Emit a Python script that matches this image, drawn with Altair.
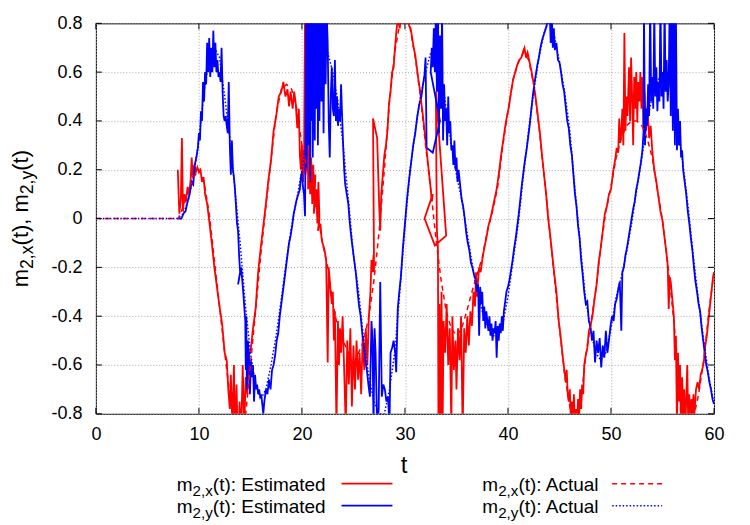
import altair as alt
import pandas as pd

# ---------------- data ----------------
t_actual = [0, 8.0, 8.5, 9.0, 9.5, 10.0, 10.5, 11.0, 11.5, 12.0, 12.5,
            13.0, 13.5, 14.0, 14.5, 15.0, 15.5, 16.0, 16.5, 17.0, 17.5,
            18.0, 18.5, 19.0, 19.5, 20.0, 20.5, 21.0, 21.5, 22.0, 22.5,
            23.0, 23.5, 24.0, 24.5, 25.0, 25.5, 26.0, 26.5, 27.0, 27.5,
            28.0, 28.5, 29.0, 29.5, 30.0, 30.5, 31.0, 31.5, 32.0, 32.5,
            33.0, 33.5, 34.0, 34.5, 35.0, 35.5, 36.0, 36.5, 37.0, 37.5,
            38.0, 38.5, 39.0, 39.5, 40.0, 40.5, 41.0, 41.5, 42.0, 42.5,
            43.0, 43.5, 44.0, 44.5, 45.0, 45.5, 46.0, 46.5, 47.0, 47.5,
            48.0, 48.5, 49.0, 49.5, 50.0, 50.5, 51.0, 51.5, 52.0, 52.5,
            53.0, 53.5, 54.0, 54.5, 55.0, 55.5, 56.0, 56.5, 57.0, 57.5,
            58.0, 58.5, 59.0, 59.5, 60.0]

mx_actual = [0,
             0, 0.05, 0.11, 0.17, 0.2, 0.15, 0.02, -0.17, -0.36, -0.55,
             -0.72, -0.84, -0.9, -0.82, -0.6, -0.38, -0.15, 0.05, 0.24, 0.43,
             0.53, 0.55, 0.53, 0.45, 0.3, 0.2, 0.1, 0.02, -0.1, -0.2,
             -0.35, -0.45, -0.5, -0.55, -0.6, -0.55, -0.5, -0.4, -0.25, -0.05,
             0.2, 0.48, 0.68, 0.8, 0.84, 0.78, 0.66, 0.5, 0.3, 0.12,
             -0.08, -0.25, -0.38, -0.45, -0.48, -0.45, -0.38, -0.3, -0.23, -0.16,
             -0.05, 0.03, 0.13, 0.3, 0.44, 0.57, 0.64, 0.68, 0.65, 0.55,
             0.38, 0.18, -0.03, -0.24, -0.45, -0.64, -0.77, -0.84, -0.78, -0.58,
             -0.44, -0.3, -0.12, 0.03, 0.13, 0.25, 0.33, 0.38, 0.4, 0.4,
             0.38, 0.33, 0.25, 0.12, -0.01, -0.18, -0.38, -0.6, -0.75, -0.85,
             -0.82, -0.72, -0.58, -0.38, -0.22]

my_actual = [0,
             0, 0.02, 0.08, 0.18, 0.32, 0.52, 0.65, 0.7, 0.66, 0.5,
             0.33, 0.12, -0.1, -0.35, -0.55, -0.68, -0.74, -0.7, -0.6, -0.48,
             -0.33, -0.17, -0.03, 0.08, 0.2, 0.35, 0.5, 0.62, 0.7, 0.68,
             0.6, 0.48, 0.3, 0.08, -0.15, -0.3, -0.5, -0.65, -0.75, -0.8,
             -0.8, -0.7, -0.55, -0.3, -0.03, 0.2, 0.36, 0.5, 0.6, 0.68,
             0.7, 0.6, 0.45, 0.3, 0.18, 0.08, -0.05, -0.18, -0.3, -0.38,
             -0.44, -0.48, -0.48, -0.43, -0.32, -0.17, -0.02, 0.18, 0.36, 0.52,
             0.66, 0.76, 0.82, 0.75, 0.64, 0.52, 0.36, 0.12, -0.1, -0.32,
             -0.45, -0.55, -0.58, -0.55, -0.45, -0.32, -0.24, -0.14, -0.02, 0.12,
             0.25, 0.4, 0.5, 0.56, 0.6, 0.6, 0.52, 0.38, 0.22, 0.04,
             -0.16, -0.34, -0.5, -0.65, -0.76]

# estimated series, (t, value) in recorded order (t is not always increasing)
mx_estimated = [
    (7.95, 0.20), (8.1, 0.02), (8.25, 0.08), (8.35, 0.33), (8.45, 0.03), (8.6, 0.10), (8.75, 0.07), (8.9, 0.13), (9.05, 0.10), (9.2, 0.16),
    (9.3, 0.25), (9.4, 0.17), (9.55, 0.22), (9.7, 0.19), (9.85, 0.21), (10.0, 0.19), (10.15, 0.20), (10.3, 0.15), (10.45, 0.17), (10.6, 0.10),
    (10.8, 0.06), (11.0, -0.01), (11.25, -0.10), (11.5, -0.20), (11.75, -0.28), (12.0, -0.36), (12.25, -0.43), (12.5, -0.55), (12.7, -0.58), (12.85, -0.70),
    (13.0, -0.78), (13.1, -0.64), (13.25, -0.85), (13.4, -0.60), (13.5, -0.90), (13.65, -0.68), (13.8, -0.95), (13.95, -0.75), (14.1, -0.90), (14.25, -0.60),
    (14.4, -0.85), (14.55, -0.65), (14.7, -0.72), (14.85, -0.55), (15.0, -0.55), (15.25, -0.45), (15.5, -0.37), (15.75, -0.22), (16.0, -0.12), (16.25, -0.03),
    (16.5, 0.06), (16.75, 0.16), (17.0, 0.24), (17.25, 0.36), (17.5, 0.42), (17.75, 0.50), (18.0, 0.52), (18.2, 0.56), (18.4, 0.50), (18.6, 0.53),
    (18.75, 0.46), (18.9, 0.52), (19.1, 0.45), (19.25, 0.52), (19.4, 0.47), (19.55, 0.37), (19.7, 0.45), (19.8, 0.26), (19.9, 0.20), (20.0, 0.30),
    (20.1, 0.15), (20.2, 0.22), (20.3, 0.85), (20.35, 0.18), (20.45, 0.32), (20.55, 0.82), (20.6, 0.12), (20.7, 0.28), (20.8, 0.10), (20.9, 0.25),
    (21.0, 0.06), (21.1, 0.22), (21.2, 0.05), (21.3, 0.18), (21.15, 0.02), (21.4, 0.12), (21.5, -0.02), (21.6, 0.15), (21.7, 0.00), (21.55, -0.05),
    (21.8, -0.02), (21.9, -0.08), (22.0, -0.10), (22.2, -0.13), (22.35, -0.17), (22.5, -0.59), (22.6, -0.20), (22.75, -0.28), (22.9, -0.35), (23.0, -0.30),
    (23.1, -0.50), (23.2, -0.38), (23.35, -0.85), (23.5, -0.42), (23.6, -0.60), (23.7, -0.45), (23.8, -0.55), (23.95, -0.40), (24.1, -0.62), (24.25, -0.85),
    (24.4, -0.50), (24.55, -0.68), (24.7, -0.45), (24.85, -0.77), (25.0, -0.52), (25.15, -0.70), (25.3, -0.50), (25.45, -0.66), (25.6, -0.55), (25.75, -0.72),
    (25.9, -0.48), (26.05, -0.62), (26.2, -0.45), (26.35, -0.60), (26.5, -0.40), (26.65, -0.30), (26.75, -0.17), (26.85, -0.22), (26.95, -0.15), (27.0, -0.22),
    (26.9, 0.41), (27.3, 0.33), (27.5, 0.05), (27.6, -0.05), (27.7, 0.10), (27.85, 0.18), (28.0, 0.26), (28.15, 0.30), (28.3, 0.36), (28.45, 0.47),
    (28.6, 0.52), (28.75, 0.60), (28.9, 0.62), (29.0, 0.68), (29.15, 0.76), (29.3, 0.82), (29.5, 0.78), (29.65, 0.85), (29.8, 0.80), (29.95, 0.86),
    (30.1, 0.81), (30.25, 0.84), (30.4, 0.79), (30.55, 0.78), (30.7, 0.74), (30.85, 0.70), (31.0, 0.67), (31.15, 0.62), (31.3, 0.57), (31.45, 0.53),
    (31.6, 0.47), (31.75, 0.42), (31.9, 0.36), (32.05, 0.30), (32.2, 0.24), (32.35, 0.18), (32.5, 0.12), (32.6, 0.07), (32.7, 0.10), (31.9, 0.00),
    (32.9, -0.11), (34.0, -0.07), (33.0, 0.52), (33.05, 0.20), (33.1, -0.05), (33.2, -0.12), (33.25, -0.85), (33.35, -0.35), (33.45, -0.90), (33.55, -0.30),
    (33.65, -0.88), (33.75, -0.42), (33.9, -0.55), (34.05, -0.35), (34.2, -0.60), (34.35, -0.45), (34.5, -0.85), (34.6, -0.40), (34.75, -0.62), (34.9, -0.50),
    (35.0, -0.70), (35.15, -0.45), (35.3, -0.58), (35.45, -0.40), (35.6, -0.88), (35.75, -0.45), (35.9, -0.55), (36.05, -0.40), (36.2, -0.52), (36.35, -0.38),
    (36.5, -0.44), (36.65, -0.30), (36.8, -0.36), (36.9, -0.22), (37.0, -0.32), (37.1, -0.25), (37.2, -0.20), (37.35, -0.22), (37.5, -0.17), (37.7, -0.12),
    (37.9, -0.08), (38.1, -0.03), (38.3, 0.00), (38.5, 0.04), (38.7, 0.08), (38.9, 0.12), (39.1, 0.18), (39.3, 0.25), (39.5, 0.31), (39.7, 0.37),
    (39.9, 0.42), (40.1, 0.46), (40.3, 0.52), (40.5, 0.57), (40.7, 0.60), (40.9, 0.63), (41.1, 0.65), (41.3, 0.66), (41.5, 0.69), (41.6, 0.70),
    (41.75, 0.66), (41.9, 0.68), (42.1, 0.64), (42.3, 0.60), (42.5, 0.55), (42.7, 0.49), (42.9, 0.42), (43.1, 0.35), (43.3, 0.26), (43.5, 0.18),
    (43.7, 0.10), (43.9, 0.00), (44.1, -0.07), (44.3, -0.15), (44.5, -0.23), (44.7, -0.30), (44.9, -0.41), (45.1, -0.48), (45.3, -0.56), (45.5, -0.63),
    (45.6, -0.67), (45.7, -0.62), (45.8, -0.72), (45.9, -0.75), (46.0, -0.70), (46.1, -0.82), (46.2, -0.75), (46.3, -0.85), (46.4, -0.72), (46.5, -0.88),
    (46.6, -0.78), (46.7, -0.85), (46.8, -0.74), (46.9, -0.82), (47.0, -0.70), (47.1, -0.78), (47.2, -0.68), (47.3, -0.72), (47.4, -0.60), (47.55, -0.56),
    (47.7, -0.53), (47.85, -0.46), (48.0, -0.44), (48.2, -0.40), (48.4, -0.33), (48.6, -0.27), (48.8, -0.18), (49.0, -0.12), (49.2, -0.05), (49.4, 0.02),
    (49.6, 0.05), (49.8, 0.10), (50.0, 0.12), (50.2, 0.19), (50.4, 0.24), (50.55, 0.29), (50.7, 0.27), (50.8, 0.41), (50.9, 0.31), (51.0, 0.35),
    (51.1, 0.45), (51.2, 0.30), (51.3, 0.76), (51.4, 0.36), (51.5, 0.50), (51.6, 0.42), (51.75, 0.62), (51.85, 0.40), (51.95, 0.66), (52.05, 0.50),
    (52.15, 0.30), (52.25, 0.58), (52.35, 0.45), (52.45, 0.60), (52.55, 0.40), (52.65, 0.56), (52.75, 0.48), (52.85, 0.60), (52.95, 0.45), (53.05, 0.58),
    (53.15, 0.38), (53.25, 0.52), (53.4, 0.36), (53.55, 0.46), (53.7, 0.33), (53.85, 0.38), (54.0, 0.28), (54.2, 0.20), (54.4, 0.15), (54.6, 0.09),
    (54.8, 0.03), (55.0, -0.01), (55.2, -0.08), (55.35, -0.13), (55.5, -0.19), (55.6, -0.37), (55.7, -0.24), (55.8, -0.26), (55.95, -0.33), (56.1, -0.40),
    (56.2, -0.58), (56.3, -0.48), (56.4, -0.85), (56.5, -0.55), (56.6, -0.75), (56.7, -0.60), (56.8, -0.90), (56.9, -0.65), (57.0, -0.82), (57.1, -0.70),
    (57.2, -0.88), (57.3, -0.74), (57.4, -0.60), (57.5, -0.86), (57.6, -0.72), (57.7, -0.90), (57.8, -0.74), (57.9, -0.82), (58.0, -0.72), (58.1, -0.80),
    (58.25, -0.70), (58.4, -0.67), (58.55, -0.70), (58.7, -0.64), (58.85, -0.62), (59.0, -0.59), (59.15, -0.52), (59.3, -0.48), (59.45, -0.42), (59.6, -0.36),
    (59.75, -0.30), (59.9, -0.24), (60.0, -0.22),
]

my_estimated = [
    (8.0, 0.00), (8.3, 0.00), (8.5, 0.02), (8.7, 0.03), (8.9, 0.07), (9.1, 0.10), (9.3, 0.15), (9.45, 0.14), (9.6, 0.22), (9.75, 0.25),
    (9.9, 0.29), (10.0, 0.35), (10.1, 0.32), (10.2, 0.44), (10.3, 0.40), (10.4, 0.56), (10.5, 0.48), (10.6, 0.60), (10.7, 0.55), (10.8, 0.72),
    (10.9, 0.60), (11.0, 0.74), (11.1, 0.58), (11.2, 0.70), (11.3, 0.60), (11.4, 0.77), (11.5, 0.62), (11.6, 0.72), (11.7, 0.60), (11.8, 0.65),
    (11.9, 0.58), (12.0, 0.60), (12.1, 0.56), (12.2, 0.70), (12.3, 0.52), (12.4, 0.42), (12.5, 0.40), (12.6, 0.42), (12.7, 0.38), (12.8, 0.35),
    (12.9, 0.56), (13.0, 0.30), (13.1, 0.18), (13.2, 0.32), (13.3, 0.20), (13.4, 0.17), (13.5, 0.12), (13.6, 0.05), (13.7, -0.02), (13.8, -0.05),
    (13.9, -0.15), (14.0, -0.22), (13.8, -0.27), (14.1, -0.20), (14.2, -0.25), (14.3, -0.30), (14.4, -0.36), (14.5, -0.42), (14.55, -0.62), (14.6, -0.40),
    (14.65, -0.70), (14.75, -0.50), (14.85, -0.55), (14.95, -0.72), (15.05, -0.58), (15.15, -0.65), (15.25, -0.60), (15.35, -0.75), (15.45, -0.64), (15.55, -0.70),
    (15.65, -0.68), (15.75, -0.72), (15.85, -0.70), (15.95, -0.73), (16.05, -0.72), (16.15, -0.76), (16.25, -0.80), (16.35, -0.75), (16.5, -0.70), (16.65, -0.72),
    (16.8, -0.66), (16.95, -0.70), (17.1, -0.62), (17.25, -0.60), (17.4, -0.56), (17.55, -0.50), (17.7, -0.47), (17.85, -0.40), (18.0, -0.35), (18.15, -0.30),
    (18.3, -0.25), (18.45, -0.20), (18.6, -0.15), (18.75, -0.10), (18.9, -0.07), (19.05, -0.03), (19.2, 0.02), (19.35, 0.05), (19.5, 0.08), (19.65, 0.10),
    (19.8, 0.12), (19.9, 0.17), (20.0, 0.19), (20.1, 0.13), (20.2, 0.10), (20.3, 0.01), (20.35, 0.30), (20.4, 0.90), (20.45, 0.20), (20.55, 0.90),
    (20.6, 0.30), (20.7, 0.85), (20.8, 0.15), (20.85, 0.95), (20.9, 0.40), (21.0, 0.90), (21.05, 0.25), (21.15, 0.85), (21.25, 0.32), (21.3, 0.90),
    (21.4, 0.45), (21.5, 0.88), (21.55, 0.30), (21.65, 0.85), (21.7, 0.40), (21.8, 0.90), (21.9, 0.48), (22.0, 0.85), (22.1, 0.35), (22.2, 0.90),
    (22.3, 0.55), (22.4, 0.85), (22.5, 0.72), (22.6, 0.40), (22.7, 0.25), (22.8, 0.50), (22.9, 0.62), (23.0, 0.45), (23.1, 0.42), (23.2, 0.65),
    (23.3, 0.40), (23.4, 0.50), (23.5, 0.38), (23.6, 0.45), (23.7, 0.40), (23.8, 0.55), (23.9, 0.42), (24.0, 0.30), (24.1, 0.20), (24.2, 0.14),
    (24.35, 0.10), (24.5, 0.06), (24.65, -0.02), (24.8, -0.08), (24.95, -0.13), (25.1, -0.18), (25.25, -0.23), (25.4, -0.30), (25.55, -0.36), (25.7, -0.40),
    (25.85, -0.47), (26.0, -0.52), (26.15, -0.58), (26.3, -0.62), (26.45, -0.68), (26.6, -0.73), (26.75, -0.42), (26.85, -0.50), (26.95, -0.85), (27.05, -0.45),
    (27.15, -0.55), (27.3, -0.85), (27.45, -0.78), (27.6, -0.26), (27.75, -0.73), (27.9, -0.68), (28.05, -0.70), (28.2, -0.75), (28.35, -0.73), (28.5, -0.85),
    (28.6, -0.55), (28.75, -0.53), (28.9, -0.50), (29.05, -0.55), (29.15, -0.63), (29.3, -0.37), (29.45, -0.30), (29.6, -0.24), (29.8, -0.12), (30.0, -0.02),
    (30.2, 0.08), (30.4, 0.16), (30.6, 0.23), (30.8, 0.30), (31.0, 0.35), (31.2, 0.42), (31.4, 0.47), (31.6, 0.50), (31.75, 0.55), (31.9, 0.59),
    (32.0, 0.66), (32.1, 0.29), (32.7, 0.27), (33.4, 0.40), (32.5, 0.60), (32.6, 0.70), (32.7, 0.62), (32.8, 0.78), (32.9, 0.60), (33.0, 0.85),
    (33.1, 0.52), (33.2, 0.90), (33.3, 0.35), (33.4, 0.75), (33.5, 0.45), (33.6, 0.85), (33.7, 0.32), (33.8, 0.55), (33.9, 0.40), (34.0, 0.45),
    (34.1, 0.30), (34.2, 0.50), (34.3, 0.35), (34.4, 0.40), (34.5, 0.28), (34.6, 0.30), (34.7, 0.22), (34.8, 0.32), (34.9, 0.20), (35.0, 0.25),
    (35.1, 0.15), (35.2, 0.20), (35.35, 0.14), (35.5, 0.08), (35.65, 0.05), (35.8, 0.00), (35.95, -0.06), (36.1, -0.10), (36.25, -0.13), (36.4, -0.18),
    (36.55, -0.20), (36.7, -0.23), (36.85, -0.25), (37.0, -0.30), (37.1, -0.27), (37.2, -0.48), (37.3, -0.28), (37.4, -0.35), (37.5, -0.30), (37.6, -0.42),
    (37.7, -0.36), (37.8, -0.45), (37.9, -0.38), (38.0, -0.42), (38.1, -0.46), (38.2, -0.40), (38.3, -0.48), (38.4, -0.43), (38.5, -0.50), (38.6, -0.45),
    (38.7, -0.47), (38.8, -0.42), (38.9, -0.57), (39.0, -0.44), (39.1, -0.50), (39.2, -0.43), (39.3, -0.47), (39.4, -0.40), (39.5, -0.46), (39.6, -0.38),
    (39.7, -0.35), (39.85, -0.30), (40.0, -0.28), (40.15, -0.25), (40.3, -0.21), (40.45, -0.17), (40.6, -0.12), (40.75, -0.08), (40.9, -0.03), (41.05, 0.02),
    (41.2, 0.08), (41.35, 0.14), (41.5, 0.19), (41.65, 0.24), (41.8, 0.28), (41.95, 0.33), (42.1, 0.38), (42.25, 0.44), (42.4, 0.50), (42.55, 0.55),
    (42.7, 0.59), (42.85, 0.63), (43.0, 0.66), (43.15, 0.70), (43.3, 0.73), (43.45, 0.75), (43.6, 0.77), (43.75, 0.79), (43.85, 0.82), (43.95, 0.80),
    (44.05, 0.84), (44.15, 0.72), (44.25, 0.83), (44.35, 0.70), (44.45, 0.78), (44.55, 0.69), (44.7, 0.72), (44.85, 0.65), (45.0, 0.64), (45.15, 0.60),
    (45.3, 0.55), (45.45, 0.52), (45.6, 0.46), (45.75, 0.40), (45.9, 0.37), (46.05, 0.30), (46.2, 0.26), (46.35, 0.18), (46.5, 0.10), (46.65, 0.05),
    (46.8, -0.03), (46.95, -0.08), (47.1, -0.17), (47.25, -0.23), (47.4, -0.30), (47.55, -0.35), (47.7, -0.34), (47.85, -0.42), (48.0, -0.44), (48.15, -0.50),
    (48.3, -0.46), (48.45, -0.59), (48.6, -0.50), (48.75, -0.55), (48.9, -0.49), (49.05, -0.61), (49.2, -0.52), (49.35, -0.57), (49.5, -0.46), (49.65, -0.55),
    (49.8, -0.50), (49.95, -0.44), (50.1, -0.40), (50.25, -0.42), (50.4, -0.35), (50.55, -0.33), (50.7, -0.29), (50.85, -0.26), (51.0, -0.46), (51.1, -0.22),
    (51.25, -0.20), (51.4, -0.15), (51.55, -0.12), (51.7, -0.08), (51.85, -0.04), (52.0, 0.00), (52.15, 0.04), (52.3, 0.07), (52.45, 0.12), (52.6, 0.15),
    (52.75, 0.19), (52.9, 0.23), (53.05, 0.28), (53.15, 0.35), (53.2, 0.85), (53.3, 0.30), (53.4, 0.45), (53.5, 0.38), (53.6, 0.55), (53.7, 0.42),
    (53.8, 0.90), (53.9, 0.48), (54.0, 0.58), (54.1, 0.45), (54.2, 0.85), (54.3, 0.50), (54.4, 0.62), (54.5, 0.44), (54.6, 0.56), (54.7, 0.48),
    (54.8, 0.90), (54.9, 0.50), (55.0, 0.60), (55.1, 0.45), (55.2, 0.88), (55.3, 0.52), (55.4, 0.65), (55.5, 0.48), (55.6, 0.55), (55.7, 0.90),
    (55.8, 0.42), (55.9, 0.88), (56.0, 0.36), (56.1, 0.90), (56.2, 0.30), (56.3, 0.85), (56.4, 0.28), (56.5, 0.45), (56.6, 0.30), (56.7, 0.40),
    (56.8, 0.25), (56.9, 0.28), (57.0, 0.20), (57.15, 0.15), (57.3, 0.10), (57.45, 0.03), (57.6, -0.02), (57.75, -0.08), (57.9, -0.13), (58.05, -0.20),
    (58.2, -0.26), (58.35, -0.30), (58.5, -0.35), (58.65, -0.38), (58.8, -0.45), (58.95, -0.50), (59.1, -0.55), (59.25, -0.60), (59.4, -0.63), (59.55, -0.67),
    (59.7, -0.70), (59.85, -0.74), (60.0, -0.76),
]

x_ticks = [0, 10, 20, 30, 40, 50, 60]
y_ticks = [-0.8, -0.6, -0.4, -0.2, 0, 0.2, 0.4, 0.6, 0.8]

legend_labels = [("2,x", "(t): Estimated"), ("2,y", "(t): Estimated"),
                 ("2,x", "(t): Actual"), ("2,y", "(t): Actual")]

# ---------------- layout / style ----------------
W, H = 619, 391
FONT = "Liberation Sans"
RED, BLUE = "#ff0000", "#0000ff"

xs = alt.Scale(domain=[0, 60], nice=False, zero=False)
ys = alt.Scale(domain=[-0.8, 0.8], nice=False, zero=False)
x_axis = alt.Axis(values=x_ticks, title=None, labelPadding=12, format="d",
                  labelFlush=False)
y_axis = alt.Axis(
    values=y_ticks, title=None, labelPadding=14, labelFlush=False,
    labelExpr="datum.value == 0 ? '0' : (datum.value < 0 ? '-' + format(-datum.value, '.1f') : format(datum.value, '.1f'))",
)


def est_df(pairs):
    return pd.DataFrame({"t": [p[0] for p in pairs], "v": [p[1] for p in pairs],
                         "i": list(range(len(pairs)))})


def act_df(vals):
    return pd.DataFrame({"t": t_actual, "v": vals, "i": list(range(len(vals)))})


def series(df, color, width, dash=None):
    kw = dict(color=color, strokeWidth=width, clip=True, interpolate="linear")
    if dash is not None:
        kw["strokeDash"] = dash
    return alt.Chart(df).mark_line(**kw).encode(
        x=alt.X("t:Q", scale=xs, axis=x_axis),
        y=alt.Y("v:Q", scale=ys, axis=y_axis),
        order=alt.Order("i:Q"),
    )


layers = [
    series(est_df(mx_estimated), RED, 1.8),
    series(est_df(my_estimated), BLUE, 1.8),
    series(act_df(mx_actual), RED, 1.5, [5, 4]),
    series(act_df(my_actual), BLUE, 1.5, [1.5, 2]),
]

# inward tick marks (gnuplot style) on all four sides
xt = pd.DataFrame({"t": x_ticks})
yt = pd.DataFrame({"v": y_ticks})
for y0, y1 in [(H, H - 6), (0, 6)]:
    layers.append(alt.Chart(xt).mark_rule(color="black", strokeWidth=1).encode(
        x=alt.X("t:Q", scale=xs, axis=x_axis), y=alt.value(y0), y2=alt.value(y1)))
for x0, x1 in [(0, 6), (W, W - 6)]:
    layers.append(alt.Chart(yt).mark_rule(color="black", strokeWidth=1).encode(
        y=alt.Y("v:Q", scale=ys, axis=y_axis), x=alt.value(x0), x2=alt.value(x1)))

one = pd.DataFrame({"k": [0]})


def txt(s, x, y, size, angle=0, align="left"):
    kw = dict(text=s, font=FONT, fontSize=size, align=align, baseline="alphabetic",
              color="black")
    if angle:
        kw["angle"] = angle
    return alt.Chart(one).mark_text(**kw).encode(x=alt.value(x), y=alt.value(y))


# x axis title
layers.append(txt("t", 308.5, 450, 24, align="center"))

# y axis title with subscripts (rotated, reading bottom to top), centred on the plot
TF, SF = 22, 17.6
BX, SX = -68, -63
layers += [
    txt("m", BX, 264.2, TF, 270),
    txt("2,x", SX, 245.9, SF, 270),
    txt("(t), m", BX, 222.4, TF, 270),
    txt("2,y", SX, 171.1, SF, 270),
    txt("(t)", BX, 147.6, TF, 270),
]

# legend (two columns below the plot)
LF, LS = 19, 15.2
cols = [(81, 246, 297), (387, 517, 567)]
rows = [468, 490]
styles = [(RED, None), (BLUE, None), (RED, [5, 4]), (BLUE, [1.5, 2])]
for k, (sub, rest) in enumerate(legend_labels):
    c, r = k // 2, k % 2
    x0, lx0, lx1 = cols[c]
    yb = rows[r]
    layers.append(txt("m", x0, yb, LF))
    layers.append(txt(sub, x0 + 15.8, yb + 5, LS))
    layers.append(txt(rest, x0 + 36.1, yb, LF))
    color, dash = styles[k]
    kw = dict(color=color, strokeWidth=1.8 if dash is None else 1.5)
    if dash is not None:
        kw["strokeDash"] = dash
    layers.append(alt.Chart(one).mark_rule(**kw).encode(
        x=alt.value(lx0), x2=alt.value(lx1), y=alt.value(yb - 7)))

chart = alt.layer(*layers).properties(
    width=W, height=H,
    padding={"left": 88, "top": 15, "right": 28, "bottom": 108},
    autosize=alt.AutoSizeParams(type="none"),
    background="white",
).configure_view(
    stroke="black", strokeWidth=1,
).configure_axis(
    domain=False, ticks=False, tickSize=0, grid=True,
    gridColor="#a8a8a8", gridDash=[1, 2], gridWidth=1,
    labelFont=FONT, labelFontSize=18, labelColor="black",
)

chart.save("out.html", embed_options={"renderer": "svg", "actions": False})
